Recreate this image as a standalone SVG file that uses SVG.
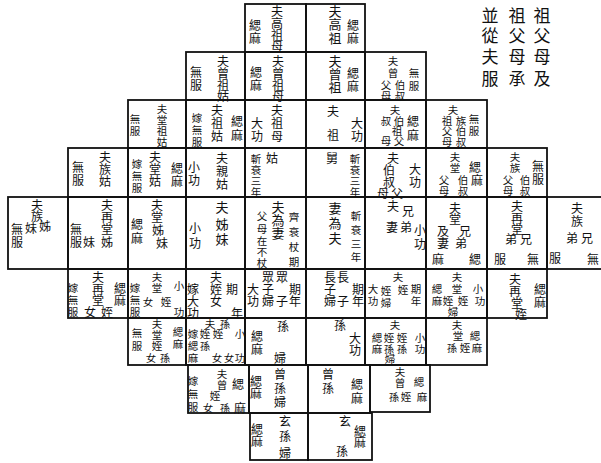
<svg xmlns="http://www.w3.org/2000/svg" width="601" height="463" viewBox="0 0 601 463">
<style>
.c{fill:none;stroke:#111;stroke-width:1.8}
text{font-family:"Noto Sans CJK TC","Noto Sans CJK SC",sans-serif;fill:#111;text-anchor:middle;dominant-baseline:central;font-size:12px}
.s{font-size:10.5px}
.b{font-size:13px}
.h{font-size:17px}
</style>
<rect width="601" height="463" fill="#fff"/>
<g id="note">
<text class="h" x="542 542 542 542" y="14 34 55 77">祖父母及</text>
<text class="h" x="517 517 517 517" y="14 34 55 77">祖父母承</text>
<text class="h" x="490 490 490 490" y="14 34 55 77">並從夫服</text>
</g>
<g id="grid">
<g id="E0"><rect class="c" x="245" y="4" width="61" height="48"/><text x="277 277 277 277" y="10 22 34 45">夫高祖母</text><text x="255 255" y="24 37">緦麻</text></g>
<g id="F0"><rect class="c" x="306" y="4" width="59" height="48"/><text class="b" x="335 335 335" y="10 23 37">夫高祖</text><text x="353 353" y="24 37">緦麻</text></g>
<g id="D1"><rect class="c" x="186" y="52" width="59" height="48"/><text x="223 223 223 223" y="60 72 84 95">夫曾祖姑</text><text x="196 196" y="71 84">無服</text></g>
<g id="E1"><rect class="c" x="245" y="52" width="61" height="48"/><text x="278 278 278 278" y="60 72 84 95">夫曾祖母</text><text x="256 256" y="71 84">緦麻</text></g>
<g id="F1"><rect class="c" x="306" y="52" width="59" height="48"/><text class="b" x="335 335 335" y="60 73 86">夫曾祖</text><text x="353 353" y="72 85">緦麻</text></g>
<g id="G1"><rect class="c" x="365" y="52" width="61" height="48"/><text class="s" x="393 393 400 400 386 386" y="60 72 84 95 84 95">夫曾伯叔父母</text><text class="s" x="414 414" y="72 85">無服</text></g>
<g id="C2"><rect class="c" x="128" y="100" width="58" height="48"/><text class="s" x="162 162 162 162" y="108 119 130 141">夫堂祖姑</text><text class="s" x="135 135" y="118 130">無服</text></g>
<g id="D2"><rect class="c" x="186" y="100" width="59" height="48"/><text x="217 217 217" y="109 122 135">夫祖姑</text><text x="237 237" y="120 134">緦麻</text><text class="s" x="197 197 197" y="117 129 141">嫁無服</text></g>
<g id="E2"><rect class="c" x="245" y="100" width="61" height="48"/><text x="277 277 277" y="109 122 135">夫祖母</text><text x="257 257" y="122 135">大功</text></g>
<g id="F2"><rect class="c" x="306" y="100" width="59" height="48"/><text x="333 333" y="110 134">夫祖</text><text x="357 357" y="122 135">大功</text></g>
<g id="G2"><rect class="c" x="365" y="100" width="61" height="48"/><text class="s" x="395 399 386 397 399 386" y="109 120 120 130 140 140">夫伯叔祖父母</text><text x="413 413" y="120 134">緦麻</text></g>
<g id="H2"><rect class="c" x="426" y="100" width="61" height="48"/><text class="s" x="453 461 461 461 447 447 447" y="109 120 130 141 120 130 141">夫族伯叔祖父母</text><text class="s" x="474 474" y="118 130">無服</text></g>
<g id="B3"><rect class="c" x="68" y="148" width="60" height="49"/><text x="105 105 105" y="156 168 180">夫族姑</text><text x="78 78" y="166 179">無服</text></g>
<g id="C3"><rect class="c" x="128" y="148" width="58" height="49"/><text x="155 155 155" y="156 168 180">夫堂姑</text><text x="177 177" y="167 180">緦麻</text><text class="s" x="137 137 137" y="163 175 187">嫁無服</text></g>
<g id="D3"><rect class="c" x="186" y="148" width="59" height="49"/><text x="222 222 222" y="157 170 183">夫親姑</text><text x="194 194" y="166 179">小功</text></g>
<g id="E3"><rect class="c" x="245" y="148" width="61" height="49"/><text x="272" y="157">姑</text><text class="s" x="256 256 256 256" y="158 169 180 191">斬衰三年</text></g>
<g id="F3"><rect class="c" x="306" y="148" width="59" height="49"/><text x="332" y="157">舅</text><text class="s" x="355 355 355 355" y="158 169 180 191">斬衰三年</text></g>
<g id="G3"><rect class="c" x="365" y="148" width="61" height="49"/><text x="393 389 389 397 383" y="157 169 181 192 192">夫伯叔父母</text><text x="415 415" y="168 181">大功</text></g>
<g id="H3"><rect class="c" x="426" y="148" width="61" height="49"/><text class="s" x="455 455 463 463 444 444" y="156 167 179 190 179 190">夫堂伯叔父母</text><text x="475 477" y="166 179">緦麻</text></g>
<g id="I3"><rect class="c" x="487" y="148" width="60" height="49"/><text class="s" x="515 515 525 525 508 508" y="156 167 179 190 179 190">夫族伯叔父母</text><text x="538 538" y="165 178">無服</text></g>
<g id="A4"><rect class="c" x="8" y="197" width="60" height="72"/><text x="37 37 45 31" y="204 215 225 227">夫族姊妹</text><text x="17 17" y="228 241">無服</text></g>
<g id="B4"><rect class="c" x="68" y="197" width="60" height="72"/><text x="107 107 107 107 89" y="204 216 228 241 241">夫再堂姊妹</text><text x="76 76" y="228 241">無服</text></g>
<g id="C4"><rect class="c" x="128" y="197" width="58" height="72"/><text x="157 157 158 162" y="204 216 229 242">夫堂姊妹</text><text x="137 137" y="223 237">緦麻</text></g>
<g id="D4"><rect class="c" x="186" y="197" width="59" height="72"/><text class="b" x="222 222 222" y="206 223 238">夫姊妹</text><text x="195 195" y="227 242">小功</text></g>
<g id="E4"><rect class="c" x="245" y="197" width="61" height="72"/><text class="b" x="278 278 278" y="206 219 232">夫為妻</text><text class="s" x="294 294 294 294" y="216 231 246 261">齊衰杖期</text><text class="s" x="262 262 262 262 262" y="215 228 240 251 262">父母在不杖</text></g>
<g id="F4"><rect class="c" x="306" y="197" width="59" height="72"/><text class="b" x="335 335 335" y="207 222 237">妻為夫</text><text class="s" x="356 356 356 356" y="215 229 243 256">斬衰三年</text></g>
<g id="G4"><rect class="c" x="365" y="197" width="61" height="72"/><text x="393 408 406 392" y="205 210 226 226">夫兄弟妻</text><text x="420 420" y="229 243">小功</text></g>
<g id="H4"><rect class="c" x="426" y="197" width="61" height="72"/><text x="455 455 465 461 443 443" y="207 218 230 242 230 242">夫堂兄弟及妻</text><text x="475 438" y="258 258">緦麻</text></g>
<g id="I4"><rect class="c" x="487" y="197" width="60" height="72"/><text x="517 517 517 526 511" y="205 217 228 238 238">夫再堂兄弟</text><text x="533 500" y="258 258">無服</text></g>
<g id="J4"><rect class="c" x="547" y="197" width="70" height="72"/><text x="577 577 587 572" y="207 220 237 237">夫族兄弟</text><text x="593 555" y="258 257">無服</text></g>
<g id="B5"><rect class="c" x="68" y="269" width="60" height="49"/><text x="98 98 98 107 90" y="276 288 299 311 311">夫再堂姪女</text><text class="s" x="73 73 73" y="287 299 311">嫁無服</text><text x="120 120" y="287 299">緦麻</text></g>
<g id="C5"><rect class="c" x="128" y="269" width="58" height="49"/><text class="s" x="157 157 166 148" y="276 287 301 301">夫堂姪女</text><text class="s" x="179 179" y="285 311">小功</text><text class="s" x="135 135 135" y="287 299 311">嫁無服</text></g>
<g id="D5"><rect class="c" x="186" y="269" width="59" height="49"/><text x="216 216 216" y="276 288 300">夫姪女</text><text x="193 193 193" y="288 300 312">嫁大功</text><text x="232 237" y="288 312">期年</text></g>
<g id="E5"><rect class="c" x="245" y="269" width="61" height="49"/><text x="253 253" y="288 300">大功</text><text x="268 268 268" y="276 288 300">眾子婦</text><text x="282 282" y="276 300">眾子</text><text x="295 295" y="288 300">期年</text></g>
<g id="F5"><rect class="c" x="306" y="269" width="59" height="49"/><text x="330 330 330" y="276 288 300">長子婦</text><text x="343 343" y="276 300">長子</text><text x="358 358" y="288 300">期年</text></g>
<g id="G5"><rect class="c" x="365" y="269" width="61" height="49"/><text class="s" x="398 403" y="276 289">夫姪</text><text class="s" x="373 373" y="288 300">大功</text><text class="s" x="386 386" y="290 302">姪婦</text><text class="s" x="416 416" y="288 300">期年</text></g>
<g id="H5"><rect class="c" x="426" y="269" width="61" height="49"/><text class="s" x="457 457 463 448 453" y="276 288 300 300 311">夫堂姪姪婦</text><text class="s" x="437 437" y="288 300">緦麻</text><text class="s" x="478 480" y="288 300">小功</text></g>
<g id="I5"><rect class="c" x="487" y="269" width="60" height="49"/><text x="515 515 517 521" y="278 290 302 313">夫再堂姪</text><text x="540 540" y="288 301">緦麻</text></g>
<g id="C6"><rect class="c" x="128" y="318" width="58" height="47"/><text class="s" x="157 157 157 165 151" y="323 334 345 357 357">夫堂姪孫女</text><text class="s" x="137 137" y="332 345">無服</text><text class="s" x="178 178" y="331 343">緦麻</text></g>
<g id="D6"><rect class="c" x="186" y="318" width="59" height="47"/><text class="s" x="210 225 205 218 205 217 229" y="323 323 333 333 345 357 357">夫孫姪姪孫女女</text><text class="s" x="193 193 193" y="333 345 357">嫁緦麻</text><text class="s" x="240 240" y="333 357">小功</text></g>
<g id="E6"><rect class="c" x="245" y="318" width="61" height="47"/><text x="283 280" y="325 357">孫婦</text><text x="257 257" y="335 348">緦麻</text></g>
<g id="F6"><rect class="c" x="306" y="318" width="59" height="47"/><text x="340" y="324">孫</text><text x="355 355" y="337 349">大功</text></g>
<g id="G6"><rect class="c" x="365" y="318" width="61" height="47"/><text class="s" x="395 402 402 389 389 390" y="324 337 348 337 348 358">夫姪孫姪孫婦</text><text class="s" x="377 377" y="337 348">緦麻</text><text class="s" x="420 420" y="337 348">小功</text></g>
<g id="H6"><rect class="c" x="426" y="318" width="61" height="47"/><text class="s" x="457 458 465 452" y="324 335 347 347">夫堂姪孫</text><text class="s" x="475 477" y="335 347">緦麻</text></g>
<g id="D7"><rect class="c" x="188" y="365" width="61" height="48"/><text class="s" x="193 193 193" y="380 393 406">嫁無服</text><text class="s" x="222 222 215 225 208" y="373 384 395 407 407">夫曾姪孫女</text><text x="238 240" y="383 407">緦麻</text></g>
<g id="E7"><rect class="c" x="249" y="365" width="59" height="48"/><text x="256 256" y="380 392">緦麻</text><text x="280 280 280" y="373 387 401">曾孫婦</text></g>
<g id="F7"><rect class="c" x="308" y="365" width="62" height="48"/><text x="328 328" y="373 387">曾孫</text><text x="357 357" y="383 397">緦麻</text></g>
<g id="G7"><rect class="c" x="370" y="365" width="60" height="47"/><text class="s" x="400 400 406 394" y="371 382 396 396">夫曾姪孫</text><text class="s" x="419 422" y="381 396">緦麻</text></g>
<g id="E8"><rect class="c" x="250" y="413" width="58" height="47"/><text x="257 257" y="428 440">緦麻</text><text x="285 285 285" y="420 435 452">玄孫婦</text></g>
<g id="F8"><rect class="c" x="308" y="413" width="64" height="47"/><text x="345 342" y="420 450">玄孫</text><text x="360 360" y="430 441">緦麻</text></g>
</g>
</svg>
